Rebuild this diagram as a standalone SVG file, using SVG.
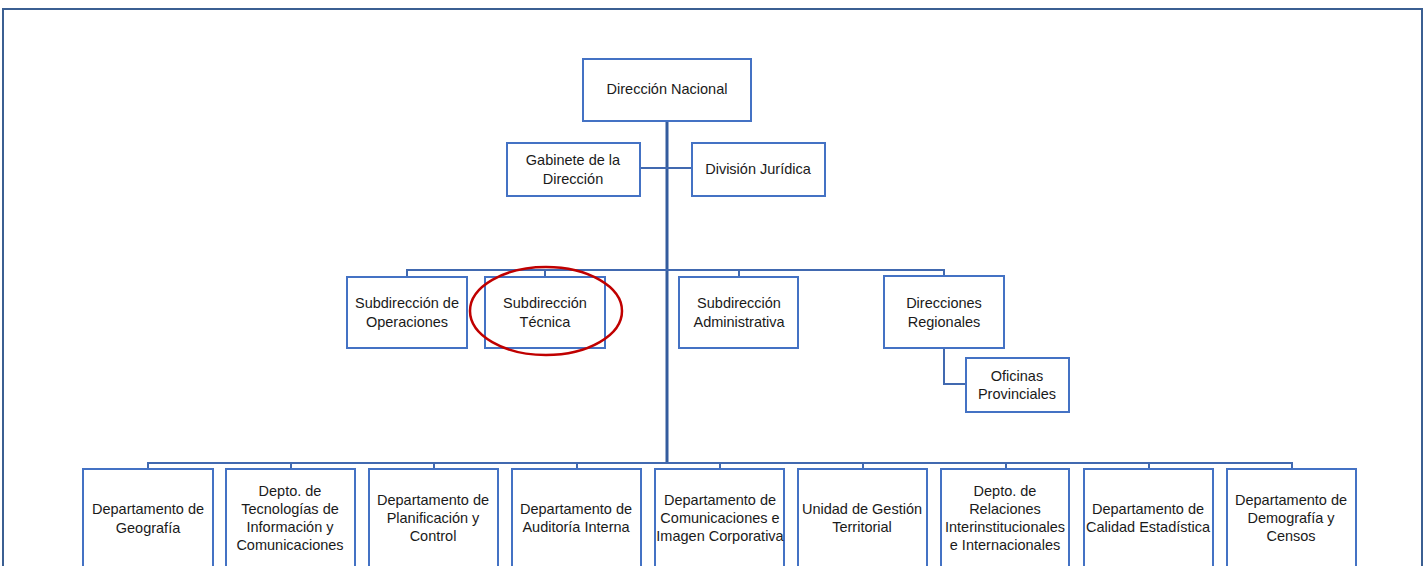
<svg xmlns="http://www.w3.org/2000/svg" width="1428" height="566" viewBox="0 0 1428 566">
<style>
.box{fill:#ffffff;stroke:#4472C4;stroke-width:2}
.lbl{font-family:"Liberation Sans",Arial,sans-serif;font-size:14.5px;fill:#1a1a1a;text-anchor:middle}
.con{fill:none;stroke:#4169B0;stroke-width:2}
.main{fill:none;stroke:#345C9E;stroke-width:3}
</style>
<rect x="0" y="0" width="1428" height="566" fill="#ffffff"/>
<path d="M3,570 V9 H1422 V570" fill="none" stroke="#3B5F92" stroke-width="2"/>
<g id="connectors">
<path class="main" d="M667,121 V463"/>
<path class="con" d="M640,168 H692"/>
<path class="con" d="M407,276 V270 H944 V276 M545,270 V276 M739,270 V276"/>
<path class="con" d="M944,348 V384 H966"/>
<path class="con" d="M148,469 V463 H1292 V469 M291,463 V469 M434,463 V469 M577,463 V469 M720,463 V469 M863,463 V469 M1006,463 V469 M1149,463 V469"/>
</g>
<g id="n-direccion-nacional"><rect class="box" x="583" y="59" width="168" height="62"/><text class="lbl" x="667" y="94">Dirección Nacional</text></g>
<g id="n-gabinete"><rect class="box" x="507" y="143" width="133" height="53"/><text class="lbl" x="573" y="165">Gabinete de la</text><text class="lbl" x="573" y="184">Dirección</text></g>
<g id="n-juridica"><rect class="box" x="692" y="143" width="133" height="53"/><text class="lbl" x="758" y="174">División Jurídica</text></g>
<g id="n-sub-operaciones"><rect class="box" x="347" y="277" width="120" height="71"/><text class="lbl" x="407" y="308">Subdirección de</text><text class="lbl" x="407" y="327">Operaciones</text></g>
<g id="n-sub-tecnica"><rect class="box" x="485" y="277" width="120" height="71"/><text class="lbl" x="545" y="308">Subdirección</text><text class="lbl" x="545" y="327">Técnica</text></g>
<g id="n-sub-administrativa"><rect class="box" x="679" y="277" width="119" height="71"/><text class="lbl" x="739" y="308">Subdirección</text><text class="lbl" x="739" y="327">Administrativa</text></g>
<g id="n-direcciones-regionales"><rect class="box" x="884" y="276" width="120" height="72"/><text class="lbl" x="944" y="308">Direcciones</text><text class="lbl" x="944" y="327">Regionales</text></g>
<g id="n-oficinas-provinciales"><rect class="box" x="966" y="358" width="103" height="54"/><text class="lbl" x="1017" y="381">Oficinas</text><text class="lbl" x="1017" y="399">Provinciales</text></g>
<g id="n-geografia"><rect class="box" x="83" y="469" width="130" height="110"/><text class="lbl" x="148" y="514">Departamento de</text><text class="lbl" x="148" y="533">Geografía</text></g>
<g id="n-tic"><rect class="box" x="226" y="469" width="129" height="110"/><text class="lbl" x="290" y="496">Depto. de</text><text class="lbl" x="290" y="514">Tecnologías de</text><text class="lbl" x="290" y="532">Información y</text><text class="lbl" x="290" y="550">Comunicaciones</text></g>
<g id="n-planificacion"><rect class="box" x="369" y="469" width="129" height="110"/><text class="lbl" x="433" y="505">Departamento de</text><text class="lbl" x="433" y="523">Planificación y</text><text class="lbl" x="433" y="541">Control</text></g>
<g id="n-auditoria"><rect class="box" x="512" y="469" width="129" height="110"/><text class="lbl" x="576" y="514">Departamento de</text><text class="lbl" x="576" y="532">Auditoría Interna</text></g>
<g id="n-comunicaciones"><rect class="box" x="655" y="469" width="129" height="110"/><text class="lbl" x="720" y="505">Departamento de</text><text class="lbl" x="720" y="523">Comunicaciones e</text><text class="lbl" x="720" y="541">Imagen Corporativa</text></g>
<g id="n-gestion-territorial"><rect class="box" x="798" y="469" width="129" height="110"/><text class="lbl" x="862" y="514">Unidad de Gestión</text><text class="lbl" x="862" y="532">Territorial</text></g>
<g id="n-relaciones"><rect class="box" x="941" y="469" width="128" height="110"/><text class="lbl" x="1005" y="496">Depto. de</text><text class="lbl" x="1005" y="514">Relaciones</text><text class="lbl" x="1005" y="532">Interinstitucionales</text><text class="lbl" x="1005" y="550">e Internacionales</text></g>
<g id="n-calidad"><rect class="box" x="1084" y="469" width="129" height="110"/><text class="lbl" x="1148" y="514">Departamento de</text><text class="lbl" x="1148" y="532">Calidad Estadística</text></g>
<g id="n-demografia"><rect class="box" x="1227" y="469" width="129" height="110"/><text class="lbl" x="1291" y="505">Departamento de</text><text class="lbl" x="1291" y="523">Demografía y</text><text class="lbl" x="1291" y="541">Censos</text></g>
<ellipse id="highlight" cx="546" cy="311" rx="76" ry="44" fill="none" stroke="#C00000" stroke-width="2.5"/>
</svg>
